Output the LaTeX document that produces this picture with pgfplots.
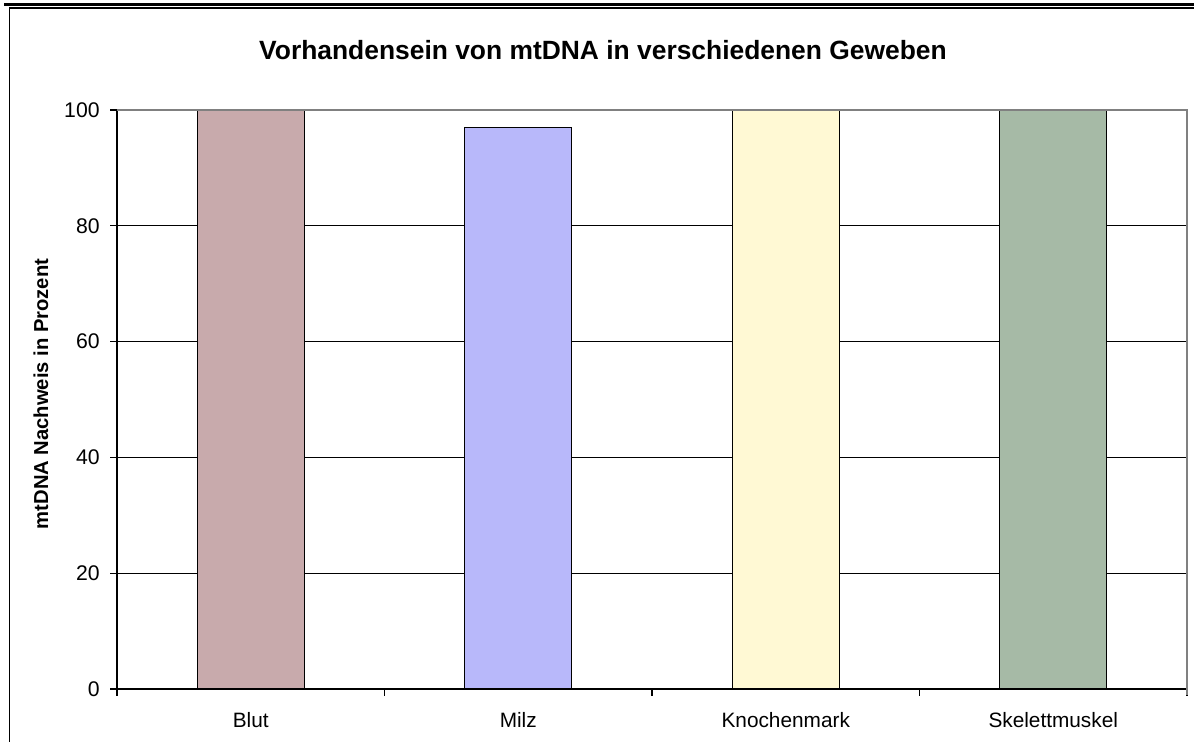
\documentclass[border=0pt]{standalone}
\usepackage{pgfplots}
\pgfplotsset{compat=1.18}
\usepackage{fontspec}
\setmainfont{Liberation Sans}
\definecolor{cBlut}{RGB}{200,170,172}
\definecolor{cMilz}{RGB}{184,184,250}
\definecolor{cKnochen}{RGB}{255,249,212}
\definecolor{cSkelett}{RGB}{166,186,166}
\begin{document}
\begin{tikzpicture}[x=1pt,y=1pt]
\useasboundingbox (0,0) rectangle (597,371);
% outer frame
\draw[line width=1.5pt] (2,368.5) -- (597,368.5);
\draw[line width=0.6pt] (4.5,367) -- (597,367);
\draw[line width=0.6pt] (4.6,367) -- (4.6,0);
\node[font=\bfseries\fontsize{13.2}{15}\selectfont] at (301.5,346) {Vorhandensein von mtDNA in verschiedenen Geweben};
\node[rotate=90, font=\bfseries\fontsize{10.1}{12}\selectfont] at (20.5,174) {mtDNA Nachweis in Prozent};
\begin{axis}[
  at={(58.5pt,26.5pt)}, anchor=south west,
  scale only axis, width=535pt, height=289.5pt,
  xmin=-0.5, xmax=3.5, ymin=0, ymax=100,
  axis x line*=bottom, axis y line*=left,
  axis line style={line width=0.6pt, black},
  xtick={0,1,2,3},
  xticklabels={Blut,Milz,Knochenmark,Skelettmuskel},
  major x tick style={draw=none},
  minor xtick={-0.5,0.5,1.5,2.5,3.5},
  minor x tick style={line width=0.6pt, black},
  minor tick length=3.5pt,
  x tick label style={font=\fontsize{10.4}{12}\selectfont, anchor=north, inner sep=0pt, yshift=-8pt},
  ytick={0,20,40,60,80,100},
  y tick style={line width=0.6pt, black},
  major tick length=3.5pt,
  tick align=outside,
  y tick label style={font=\fontsize{10.6}{12}\selectfont, anchor=east, inner sep=0pt, xshift=-5pt},
  /pgf/number format/assume math mode=true,
  ymajorgrids, grid style={line width=0.5pt, black},
  ybar, bar width=53.5pt, bar shift=0pt,
  clip=false,
]
\addplot[fill=cBlut, draw=black, line width=0.6pt] coordinates {(0,100)};
\addplot[fill=cMilz, draw=black, line width=0.6pt] coordinates {(1,97)};
\addplot[fill=cKnochen, draw=black, line width=0.6pt] coordinates {(2,100)};
\addplot[fill=cSkelett, draw=black, line width=0.6pt] coordinates {(3,100)};
\draw[gray, line width=0.6pt] (rel axis cs:0,1) -- (rel axis cs:1,1) -- (rel axis cs:1,-0.01);
\end{axis}
\end{tikzpicture}
\end{document}
